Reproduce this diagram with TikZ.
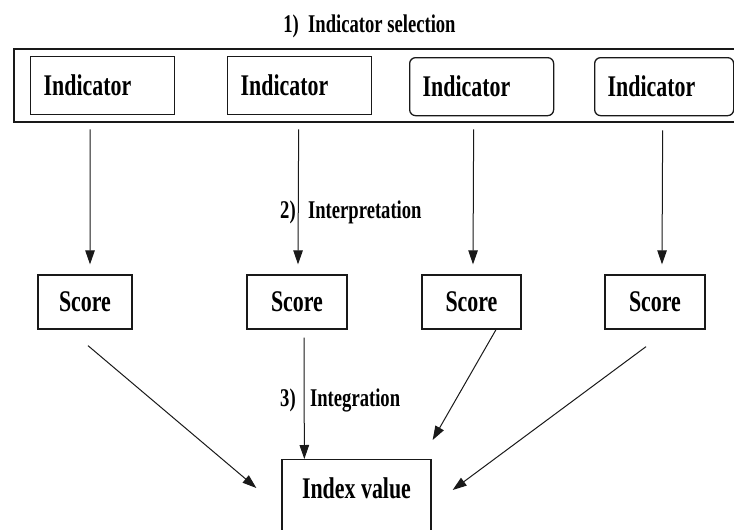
\documentclass[tikz,border=0pt]{standalone}
\usepackage{fontspec}
\setmainfont{Liberation Serif}[FakeStretch=0.73]
\usepackage{tikz}
\usetikzlibrary{positioning,arrows.meta,calc}

\begin{document}
\begin{tikzpicture}[x=1pt,y=-1pt,
        box/.style={draw=black!90,line width=1.3pt,font=\fontsize{30}{36}\selectfont\bfseries},
        ind/.style={box,minimum height=58pt,text width=118pt,inner xsep=13pt,align=left},
        sc/.style={box,minimum height=54pt,minimum width=100pt},
        lbl/.style={inner sep=2pt,font=\fontsize{25.5}{30}\selectfont\bfseries},
        arr/.style={draw=black!90,line width=1pt,-{Triangle[length=14pt,width=9.5pt]}}]
    \useasboundingbox (0,0) rectangle (734,530);
    % selection frame and title
    \node[draw=black!90,line width=1.7pt,minimum width=730pt,minimum height=73pt,anchor=north west] (sel) at (13,48) {};
    \node[lbl] (title) at (369.5,26) {1)\ \ Indicator selection};
    % indicators
    \node[ind,anchor=north west] (ind1) at (30,56) {Indicator};
    \node[ind,anchor=north west] (ind2) at (227,56) {Indicator};
    \node[ind,rounded corners=6pt,anchor=north west] (ind3) at (409,57) {Indicator};
    \node[ind,rounded corners=6pt,text width=113pt,anchor=north west] (ind4) at (594,57) {Indicator};
    % scores
    \node[sc,minimum width=94pt] (sc1) at (85,302) {Score};
    \node[sc] (sc2) at (297,302) {Score};
    \node[sc,minimum width=99pt] (sc3) at (471.5,302) {Score};
    \node[sc] (sc4) at (655,302) {Score};
    % index
    \node[box,minimum width=149pt,inner ysep=19pt,text height=20pt,text depth=28pt,anchor=north] (idx) at (356.5,459) {Index value};
    % step labels
    \node[lbl] (s2) at (288,212) {2)};
    \node[lbl,right=8pt of s2] (interp) {Interpretation};
    \node[lbl] (s3) at (288,400) {3)};
    \node[lbl,right=10pt of s3] (integ) {Integration};
    % interpretation arrows
    \draw[arr] ($(ind1.south)+(-12.5,14)$) -- ($(sc1.north)+(5,-10)$);
    \draw[arr] ($(ind2.south)+(-1,14)$) -- ($(sc2.north)+(1,-10)$);
    \draw[arr] ($(ind3.south)+(-8,13)$) -- ($(sc3.north)+(1.5,-10)$);
    \draw[arr] ($(ind4.south)+(-1.5,14)$) -- ($(sc4.north)+(7,-10)$);
    % integration arrows
    \draw[arr] ($(sc1.south)+(3,16)$) -- ($(idx.north west)+(-25,29)$);
    \draw[arr] ($(sc2.south)+(7,8)$) -- ($(idx.north west)+(23,0)$);
    \draw[arr] ($(sc3.south)+(24.5,0)$) -- ($(idx.north east)+(1,-19)$);
    \draw[arr] ($(sc4.south)+(-9,17)$) -- ($(idx.north east)+(21,31)$);
\end{tikzpicture}
\end{document}
